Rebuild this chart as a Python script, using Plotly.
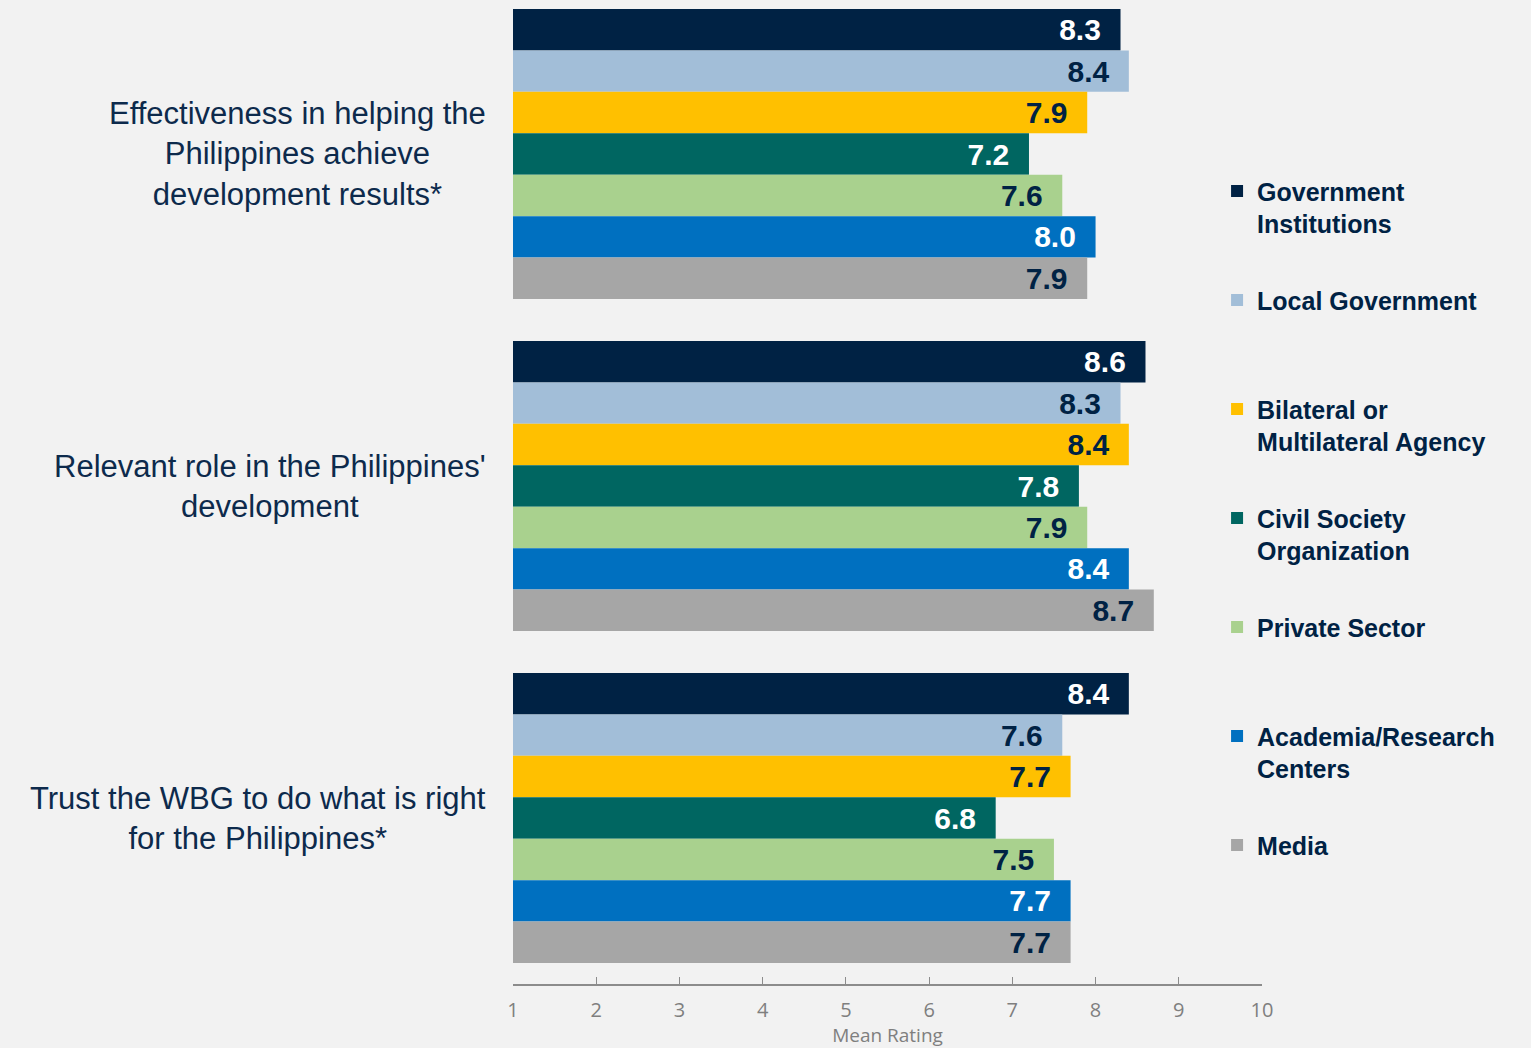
import plotly.graph_objects as go

# Survey dimensions (display labels) and stakeholder groups
categories = [
    "Effectiveness in helping the<br>Philippines achieve<br>development results*",
    "Relevant role in the Philippines'<br>development",
    "Trust the WBG to do what is right<br>for the Philippines*",
]
groups = [
    "Government<br>Institutions",
    "Local Government",
    "Bilateral or<br>Multilateral Agency",
    "Civil Society<br>Organization",
    "Private Sector",
    "Academia/Research<br>Centers",
    "Media",
]

# Mean ratings per stakeholder group, one value per dimension
gov_institutions = [8.3, 8.6, 8.4]
local_government = [8.4, 8.3, 7.6]
bilateral_multilateral = [7.9, 8.4, 7.7]
civil_society = [7.2, 7.8, 6.8]
private_sector = [7.6, 7.9, 7.5]
academia_research = [8.0, 8.4, 7.7]
media = [7.9, 8.7, 7.7]

x_ticks = [1, 2, 3, 4, 5, 6, 7, 8, 9, 10]

SANS = "Liberation Sans, Arial, sans-serif"
NAVY = "#002244"
series = [
    (gov_institutions, "#002244", "white"),
    (local_government, "#A2BED8", NAVY),
    (bilateral_multilateral, "#FFC000", NAVY),
    (civil_society, "#006661", "white"),
    (private_sector, "#A9D18E", NAVY),
    (academia_research, "#0070C0", "white"),
    (media, "#A6A6A6", NAVY),
]

fig = go.Figure()
for i, (name, (vals, color, txtcolor)) in enumerate(zip(groups, series)):
    legend_name = name if "<br>" in name else name + "<br>\u00a0"
    fig.add_trace(go.Bar(
        name=legend_name,
        y=categories,
        x=vals,
        orientation="h",
        marker=dict(color=color, line=dict(width=0)),
        texttemplate="%{x:.1f}\u00a0\u00a0",
        textposition="inside",
        insidetextanchor="end",
        constraintext="none",
        textfont=dict(family=SANS, size=30, color=txtcolor, weight="bold"),
        legendgroup=f"g{i}",
        hoverinfo="x+name",
    ))

# Dimension labels to the left of each bar group
for cat in categories:
    fig.add_annotation(
        x=-0.033, xref="paper", y=cat, yref="y",
        text=cat, showarrow=False, xanchor="right", yanchor="middle",
        align="center",
        font=dict(family=SANS, size=31, color="#0D2A4C"),
    )

fig.update_layout(
    width=1531, height=1048,
    paper_bgcolor="#F2F2F2", plot_bgcolor="#F2F2F2",
    barmode="group", bargap=0.1265, bargroupgap=0,
    margin=dict(l=513, r=269, t=0, b=64, autoexpand=False),
    showlegend=True,
    legend=dict(
        x=0.94, xanchor="left", y=0.829, yanchor="top",
        traceorder="grouped", tracegroupgap=41, valign="top",
        bgcolor="rgba(0,0,0,0)",
        font=dict(family=SANS, size=25, color=NAVY, weight="bold"),
        itemclick=False, itemdoubleclick=False,
    ),
    xaxis=dict(
        range=[1, 10], tickvals=x_ticks, ticks="inside", ticklen=7,
        tickcolor="#8C8C8C", tickwidth=1.2,
        showline=True, linecolor="#8C8C8C", linewidth=1.5,
        showgrid=False, zeroline=False, automargin=False,
        ticklabelstandoff=7,
        tickfont=dict(family="Open Sans", size=20, color="#7F7F7F"),
        title=dict(text="Mean Rating", standoff=14,
                   font=dict(family="Open Sans", size=19, color="#7F7F7F")),
    ),
    yaxis=dict(
        categoryorder="array", categoryarray=categories,
        range=[2.5, -0.4639], showticklabels=False, showgrid=False,
        zeroline=False, showline=False, ticks="", automargin=False,
    ),
)

fig.write_html("out.html")
